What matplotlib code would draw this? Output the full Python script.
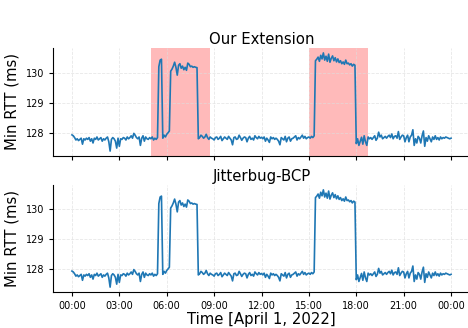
import pandas as pd
import matplotlib
matplotlib.use("Agg")
import matplotlib.pyplot as plt
import matplotlib.dates as mdates

# min RTT samples every 5 minutes on April 1, 2022 (one row per hour)
rtt = [
    127.93, 127.90, 127.84, 127.76, 127.80, 127.74, 127.78, 127.82, 127.62, 127.80, 127.76, 127.82,
    127.78, 127.84, 127.72, 127.80, 127.66, 127.82, 127.78, 127.86, 127.76, 127.80, 127.84, 127.72,
    127.80, 127.76, 127.82, 127.86, 127.70, 127.39, 127.78, 127.84, 127.80, 127.72, 127.49, 127.82,
    127.55, 127.80, 127.78, 127.84, 127.82, 127.76, 127.86, 127.80, 127.84, 127.90, 127.82, 127.98,
    127.92, 127.84, 127.80, 127.86, 127.58, 127.82, 127.90, 127.72, 127.86, 127.80, 127.78, 127.84,
    127.80, 127.86, 127.76, 127.82, 127.78, 127.84, 130.20, 130.42, 130.45, 127.82, 127.92, 127.86,
    127.95, 128.00, 128.06, 130.05, 130.12, 130.22, 130.35, 130.18, 129.92, 130.25, 130.30, 130.15,
    130.22, 130.10, 130.18, 130.08, 130.32, 130.28, 130.20, 130.22, 130.18, 130.20, 130.18, 130.17,
    127.80, 127.84, 127.92, 127.88, 127.82, 127.86, 127.95, 127.84, 127.78, 127.86, 127.82, 127.80,
    127.76, 127.84, 127.86, 127.78, 127.82, 127.88, 127.74, 127.80, 127.86, 127.82, 127.78, 127.88,
    127.82, 127.76, 127.60, 127.84, 127.86, 127.78, 127.80, 127.92, 127.84, 127.75, 127.82, 127.86,
    127.84, 127.70, 127.82, 127.88, 127.78, 127.82, 127.76, 127.90, 127.84, 127.80, 127.88, 127.82,
    127.85, 127.80, 127.86, 127.72, 127.82, 127.76, 127.68, 127.86, 127.80, 127.84, 127.78, 127.82,
    127.78, 127.72, 127.60, 127.84, 127.80, 127.76, 127.88, 127.70, 127.82, 127.86, 127.72, 127.80,
    127.82, 127.86, 127.90, 127.76, 127.84, 127.80, 127.86, 127.92, 127.82, 127.88, 127.80, 127.84,
    127.86, 127.82, 127.88, 127.84, 127.90, 130.40, 130.45, 130.52, 130.38, 130.58, 130.46, 130.66,
    130.42, 130.55, 130.38, 130.62, 130.35, 130.48, 130.56, 130.40, 130.50, 130.36, 130.46, 130.34,
    130.40, 130.30, 130.36, 130.28, 130.42, 130.30, 130.32, 130.26, 130.30, 130.22, 130.28, 130.25,
    127.64, 127.80, 127.58, 127.72, 127.85, 127.62, 127.90, 127.70, 127.58, 127.86, 127.80, 127.84,
    127.78, 127.84, 127.90, 127.75, 127.82, 128.02, 127.86, 127.92, 127.80, 127.84, 127.88, 127.82,
    127.88, 127.92, 127.84, 127.96, 127.80, 127.88, 127.90, 127.82, 128.04, 127.78, 127.86, 127.92,
    127.90, 127.70, 127.84, 127.92, 127.70, 127.86, 127.92, 128.10, 127.58, 127.80, 127.66, 127.88,
    127.82, 127.66, 127.90, 128.06, 127.55, 127.84, 127.72, 127.90, 127.80, 127.70, 127.86, 127.78,
    127.90, 127.78, 127.84, 127.76, 127.86, 127.80, 127.84, 127.82, 127.86, 127.84, 127.82, 127.80,
    127.82,
]
times = pd.date_range("2022-04-01 00:00", periods=len(rtt), freq="5min")

# periods flagged by our extension
flag_start = ["2022-04-01 05:00", "2022-04-01 15:00"]
flag_end = ["2022-04-01 08:45", "2022-04-01 18:45"]

titles = ["Our Extension", "Jitterbug-BCP"]

fig = plt.figure(figsize=(4.68, 3.28), dpi=100)
ax1 = fig.add_axes([53 / 468, 1 - 156 / 328, 417 / 468, 108 / 328])
ax2 = fig.add_axes([53 / 468, 1 - 292 / 328, 417 / 468, 107 / 328], sharex=ax1)

for ax, title in zip([ax1, ax2], titles):
    ax.plot(times, rtt, color="#1f77b4", linewidth=1.2)
    ax.set_title(title, fontsize=10.7, pad=3)
    ax.set_ylabel("Min RTT (ms)", fontsize=10.7)
    ax.set_yticks([128, 129, 130])
    ax.tick_params(labelsize=7, length=3)
    ax.grid(True, color="#dddddd", linestyle="--", linewidth=0.6, alpha=0.7)
    ax.spines["top"].set_visible(False)
    ax.spines["right"].set_visible(False)

for s, e in zip(flag_start, flag_end):
    ax1.axvspan(pd.Timestamp(s), pd.Timestamp(e), color="red", alpha=0.27, linewidth=0)

ax2.xaxis.set_major_locator(mdates.HourLocator(byhour=range(0, 24, 3)))
ax2.xaxis.set_major_formatter(mdates.DateFormatter("%H:%M"))
plt.setp(ax1.get_xticklabels(), visible=False)
ax2.set_xlabel("Time [April 1, 2022]", fontsize=10.7, labelpad=1)

fig.savefig("out.png", dpi=100)
